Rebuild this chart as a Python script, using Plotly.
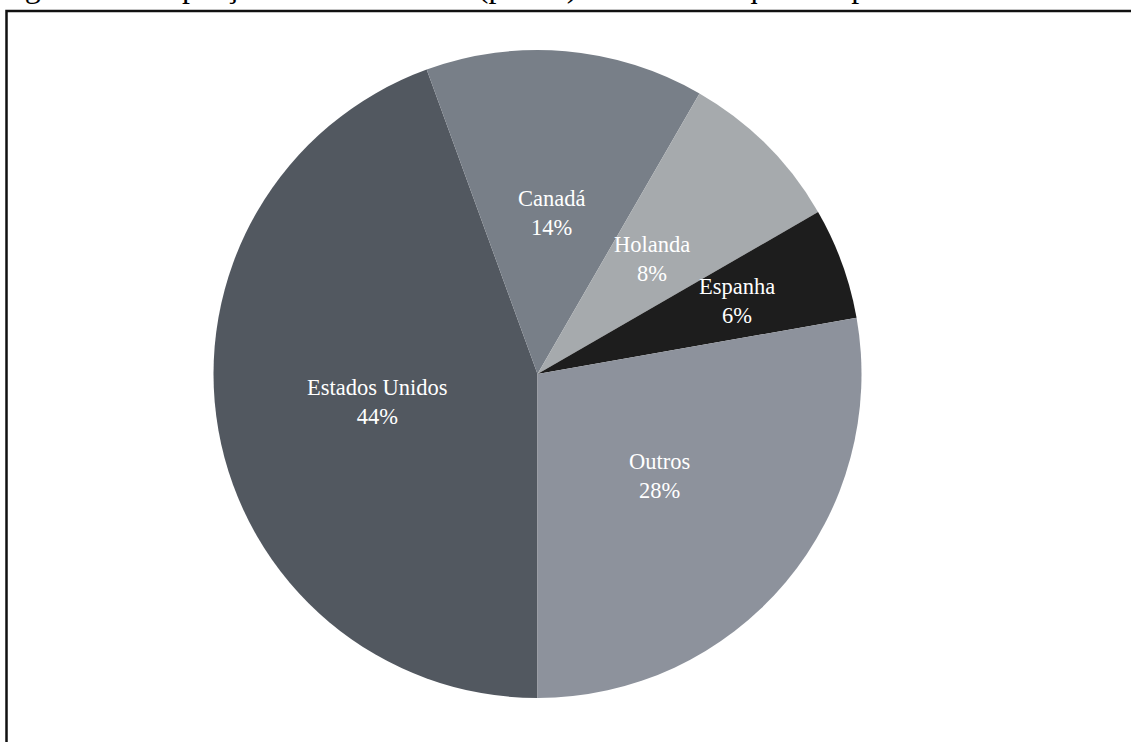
import math
import plotly.graph_objects as go

labels = ["Estados Unidos", "Canadá", "Holanda", "Espanha", "Outros"]
counts = [16, 5, 3, 2, 10]
colors = ["#525860", "#787f88", "#a6aaad", "#1d1d1d", "#8d929c"]
title_text = "Figura 5 – Proporção de Localidades (países) dos estudos que compõem a RL"

# styling / layout (pixels)
W, H = 1131, 742
cx, cy, R = 537.5, 374, 324
rotation = 180
label_rfrac = [0.5, 0.5, 0.5, 0.655, 0.49]
label_font = dict(family="Liberation Serif", size=22.5, color="white")

fig = go.Figure(go.Pie(
    labels=labels,
    values=counts,
    marker=dict(colors=colors, line=dict(width=0)),
    sort=False,
    direction="clockwise",
    rotation=rotation,
    textinfo="none",
    showlegend=False,
    hoverinfo="label+percent",
    domain=dict(x=[(cx - R) / W, (cx + R) / W], y=[1 - (cy + R) / H, 1 - (cy - R) / H]),
))

# labels placed at the mid-angle of each slice (computed from the data)
total = sum(counts)
annotations = []
cum = 0.0
for lab, v, rf in zip(labels, counts, label_rfrac):
    mid = rotation + 360.0 * (cum + v / 2.0) / total
    cum += v
    th = math.radians(mid)
    px = cx + rf * R * math.sin(th)
    py = cy - rf * R * math.cos(th)
    pct = round(100.0 * v / total)
    annotations.append(dict(
        text=f"{lab}<br>{pct}%", xref="paper", yref="paper",
        x=px / W, y=1 - py / H, xanchor="center", yanchor="middle",
        showarrow=False, font=label_font, align="center"))

annotations.append(dict(text=title_text, xref="paper", yref="paper",
                        x=-4 / W, y=1 - 6 / H, xanchor="left", yanchor="bottom",
                        showarrow=False,
                        font=dict(family="Liberation Serif", size=32, color="black")))

fig.update_layout(
    width=W, height=H,
    margin=dict(l=0, r=0, t=0, b=0),
    paper_bgcolor="white",
    plot_bgcolor="white",
    shapes=[dict(type="rect", xref="paper", yref="paper",
                 x0=6.5 / W, x1=1.02, y0=1 - 11 / H, y1=-0.02,
                 line=dict(color="#111111", width=2.5), fillcolor="rgba(0,0,0,0)")],
    annotations=annotations,
)

fig.write_html("out.html")
